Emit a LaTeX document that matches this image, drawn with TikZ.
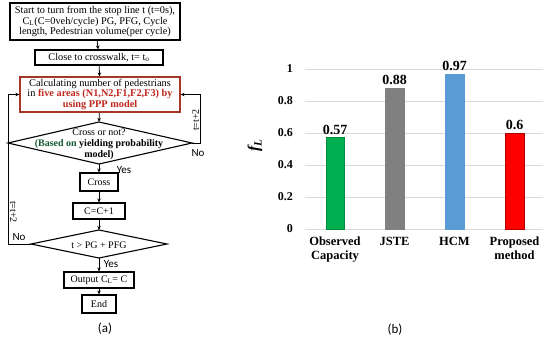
\documentclass[tikz,border=0pt]{standalone}
\usepackage{fontspec}
\setmainfont{Liberation Serif}
\newfontfamily\sansf{Carlito}
\usetikzlibrary{arrows.meta}
\definecolor{boxred}{RGB}{165,55,40}
\definecolor{txtred}{RGB}{192,40,30}
\definecolor{dgreen}{RGB}{20,90,50}
\definecolor{bgreen}{RGB}{0,176,80}
\definecolor{bgray}{RGB}{128,128,128}
\definecolor{bblue}{RGB}{91,155,213}
\definecolor{bred}{RGB}{255,0,0}
\definecolor{gridc}{RGB}{217,217,217}
\tikzset{
  fbox/.style={draw=black, line width=1.1pt, fill=white, inner sep=0pt, align=center,
    font=\fontsize{10.3}{10.8}\selectfont},
  sbox/.style={fbox, font=\fontsize{10}{11}\selectfont},
  dshape/.style={draw=black, line width=1.1pt, fill=white},
  dtext/.style={inner sep=0pt, align=center, font=\fontsize{10}{10.8}\selectfont},
  arr/.style={-{Stealth[length=4pt,width=3.5pt]}, line width=0.8pt},
  lab/.style={font=\sansf\fontsize{11}{12}\selectfont, inner sep=0pt},
  loopl/.style={font=\fontsize{10}{11}\selectfont, inner sep=0pt},
  ticklbl/.style={font=\bfseries\fontsize{12}{13}\selectfont, anchor=east, inner sep=0pt},
  vallbl/.style={font=\bfseries\fontsize{14}{15}\selectfont, anchor=south, inner sep=0pt},
  catlbl/.style={font=\bfseries\fontsize{12.5}{13.5}\selectfont, align=center, anchor=north, inner sep=0pt},
  barr/.style={line width=0.6pt},
  captxt/.style={font=\sansf\fontsize{13}{14}\selectfont, inner sep=0pt}
}
\begin{document}
\begin{tikzpicture}[x=1pt,y=-1pt]
\useasboundingbox (0,0) rectangle (550,340);
% ---------- flowchart ----------
\node[fbox, minimum width=170pt, minimum height=37pt] (b1) at (95,21.5)
  {Start to turn from the stop line t (t=0s),\\ C\textsubscript{L}(C=0veh/cycle) PG, PFG, Cycle\\ length, Pedestrian volume(per cycle)};
\node[fbox, minimum width=128pt, minimum height=15pt] (b2) at (99,57.5)
  {Close to crosswalk, t= t\textsubscript{o}};
\node[fbox, draw=boxred, minimum width=160pt, minimum height=35pt] (b3) at (100,94.5)
  {Calculating number of pedestrians\\ in \textcolor{txtred}{\bfseries five areas (N1,N2,F1,F2,F3) by}\\ \textcolor{txtred}{\bfseries using PPP model}};
\coordinate (d1n) at (99,122);
\coordinate (d1s) at (99,164);
\coordinate (d1w) at (8,143);
\coordinate (d1e) at (192,143);
\draw[dshape] (d1n) -- (d1e) -- (d1s) -- (d1w) -- cycle;
\node[dtext] (d1) at (99,144)
  {Cross or not?\\ \textcolor{dgreen}{\bfseries (Based on} \textbf{yielding probability}\\ \textbf{model)}};
\node[sbox, minimum width=38pt, minimum height=18pt] (cr) at (99,182) {Cross};
\node[sbox, minimum width=52pt, minimum height=16pt] (cc) at (99,211) {C=C+1};
\coordinate (d2n) at (99,230);
\coordinate (d2s) at (99,258);
\coordinate (d2w) at (31,244);
\coordinate (d2e) at (167,244);
\draw[dshape] (d2n) -- (d2e) -- (d2s) -- (d2w) -- cycle;
\node[dtext] (d2) at (99,245) {t > PG + PFG};
\node[sbox, minimum width=70pt, minimum height=16pt] (out) at (99,280) {Output C\textsubscript{L}= C};
\node[sbox, minimum width=34pt, minimum height=18pt] (en) at (99,304) {End};
% arrows
\draw[arr] (b1) -- (b2);
\draw[arr] (b2) -- (b3);
\draw[arr] (b3) -- (d1n);
\draw[arr] (d1s) -- (cr);
\draw[arr] (cr) -- (cc);
\draw[arr] (cc) -- (d2n);
\draw[arr] (d2s) -- (out);
\draw[arr] (out) -- (en);
\coordinate (rc1) at (200,143);
\coordinate (rc2) at (200,94.5);
\draw[arr] (d1e) -- (rc1) -- (rc2) -- (b3.east);
\coordinate (lc1) at (8,244);
\coordinate (lc2) at (8,94.5);
\draw[arr] (d2w) -- (lc1) -- (lc2) -- (b3.west);
\node[lab] (yes1) at (124,170) {Yes};
\node[lab] (no1) at (198,153) {No};
\node[loopl, rotate=90] (tr) at (195.5,120) {t=t+2};
\node[lab] (yes2) at (111,264.5) {Yes};
\node[lab] (no2) at (19,237) {No};
\node[loopl, rotate=-90] (tl) at (13.5,212) {t=t+2};
\node[captxt] (ca) at (105,329) {(a)};
% ---------- bar chart ----------
\foreach \v/\lbl in {0/0,0.2/0.2,0.4/0.4,0.6/0.6,0.8/0.8,1/1}{
  \draw[gridc, line width=0.6pt] (305,229-160*\v) -- (543,229-160*\v);
  \node[ticklbl] at (293,229-160*\v) {\lbl};
}
\draw[barr, fill=bgreen, draw=bgreen!80!black] (326,229) rectangle (344,229-160*0.57);
\draw[barr, fill=bgray, draw=bgray] (385,229) rectangle (404,229-160*0.88);
\draw[barr, fill=bblue, draw=bblue] (445,229) rectangle (464,229-160*0.97);
\draw[barr, fill=bred, draw=red!70!black] (505,229) rectangle (524,229-160*0.6);
\node[vallbl] (v1) at (335,229-160*0.57-3) {0.57};
\node[vallbl] (v2) at (394.5,229-160*0.88-3) {0.88};
\node[vallbl] (v3) at (454.5,229-160*0.97-3) {0.97};
\node[vallbl] (v4) at (514.5,229-160*0.6-3) {0.6};
\node[catlbl] (c1) at (335,237) {Observed\\Capacity};
\node[catlbl] (c2) at (394.5,237) {JSTE};
\node[catlbl] (c3) at (454.5,237) {HCM};
\node[catlbl] (c4) at (514.5,237) {Proposed\\method};
\node[rotate=90, font=\bfseries\itshape\fontsize{16}{17}\selectfont, inner sep=0pt] (fl) at (255,145) {f\textsubscript{L}};
\node[captxt] (cb) at (395,330) {(b)};
\end{tikzpicture}
\end{document}
